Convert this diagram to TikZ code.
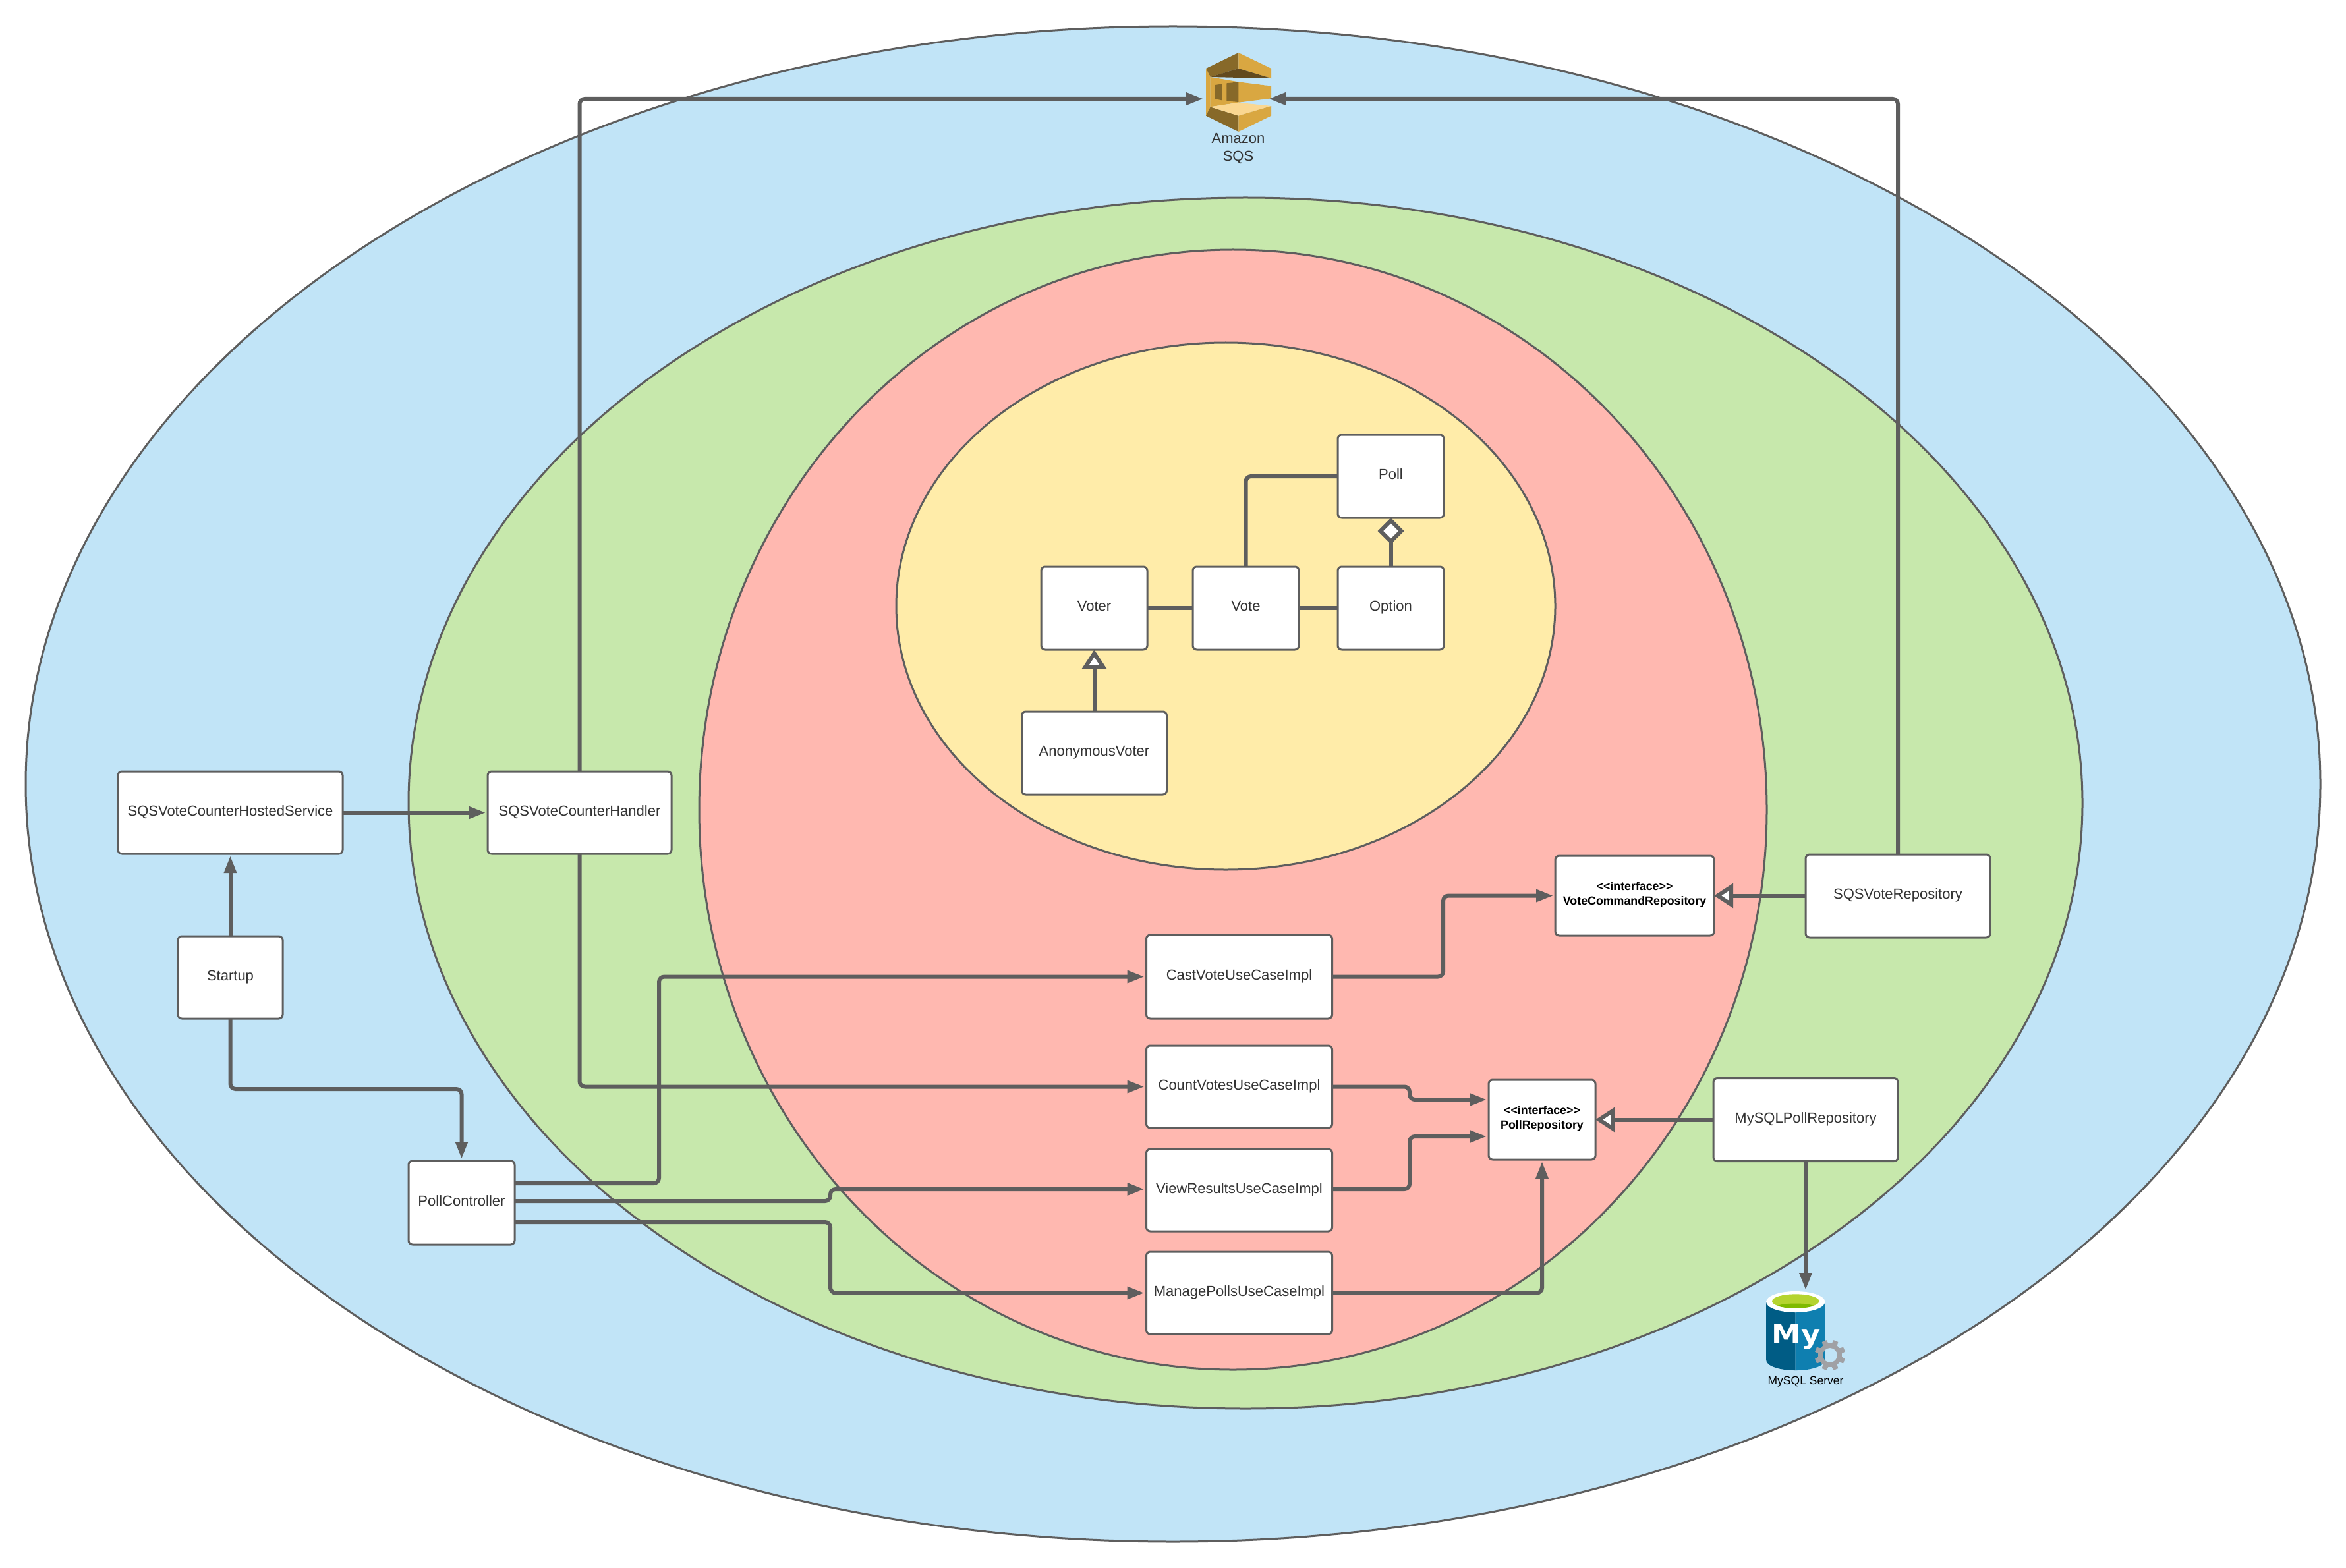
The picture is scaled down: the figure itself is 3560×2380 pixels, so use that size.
\documentclass[tikz,border=0pt]{standalone}
\usepackage{fontspec}
\setmainfont{Liberation Sans}
\newfontfamily\logofont{DejaVu Sans}
\usetikzlibrary{arrows.meta,calc}
\definecolor{cblue}{HTML}{C1E4F7}
\definecolor{cgreen}{HTML}{C7E8AC}
\definecolor{cred}{HTML}{FFB8B0}
\definecolor{cyellow}{HTML}{FFECA9}
\definecolor{cline}{HTML}{5E5E5E}
\definecolor{ctext}{HTML}{333333}
\definecolor{goldA}{HTML}{D9A741}
\definecolor{goldB}{HTML}{876929}
\definecolor{goldC}{HTML}{624A1E}
\definecolor{goldD}{HTML}{FAD791}
\definecolor{myblueA}{HTML}{005C85}
\definecolor{myblueB}{HTML}{0F7FB0}
\definecolor{mygreenA}{HTML}{B5D430}
\definecolor{mygreenB}{HTML}{7FBA00}
\definecolor{mygear}{HTML}{A0A1A5}
\tikzset{
  ringpath/.style={draw=cline,line width=1.5pt},
  box/.style={draw=cline,fill=white,line width=1.5pt,rounded corners=3pt,outer sep=0pt,inner sep=0pt,
    font=\fontsize{11}{13.5}\selectfont,text=ctext,align=center,text height=8pt,text depth=3.5pt},
  ibox/.style={draw=cline,fill=white,line width=1.5pt,rounded corners=3pt,outer sep=0pt,inner sep=0pt,
    align=center,font=\fontsize{8.9}{11}\selectfont\bfseries,text=black,text depth=3.1pt},
  conn/.style={draw=cline,line width=3pt,rounded corners=4pt},
  arr/.style={conn,-{Triangle[length=13pt,width=9pt]},shorten >=1.5pt},
  hollow/.style={conn,-{Triangle[open,fill=white,length=14.5pt,width=18pt,line width=3pt]}},
  aggr/.style={conn,-{Diamond[open,fill=white,length=20pt,width=20pt,line width=3pt]}},
  iconbox/.style={inner sep=0pt,outer sep=0pt},
}
\begin{document}
\begin{tikzpicture}[x=0.5pt,y=-0.5pt]
\useasboundingbox (0,0) rectangle (3560,2380);
% layers
\path[ringpath,fill=cblue] (1780,1190) ellipse [x radius=1741,y radius=1150];
\path[ringpath,fill=cgreen] (1890,1219) ellipse [x radius=1270,y radius=919];
\path[ringpath,fill=cred] (1871,1229) ellipse [x radius=810,y radius=850];
\path[ringpath,fill=cyellow] (1860,920) ellipse [x radius=500,y radius=400];

% Amazon SQS icon
\begin{scope}[shift={(1780,60)},x=0.1667pt,y=-0.1667pt]
\fill[goldB] (298,60)--(150,132)--(170,171)--(298,132)--cycle;
\fill[goldA] (150,132)--(170,171)--(170,307)--(150,347)--cycle;
\fill[goldB] (150,347)--(170,307)--(298,347)--(298,420)--cycle;
\fill[goldA] (298,60)--(447,132)--(447,177)--(298,132)--cycle;
\fill[goldC] (298,132)--(447,177)--(170,171)--cycle;
\fill[goldA] (170,171)--(298,193)--(447,212)--(447,268)--(298,287)--(170,307)--cycle;
\fill[goldB] (189,207)--(223,203)--(223,277)--(189,270)--cycle;
\fill[goldB] (244,199)--(298,193)--(298,285)--(244,280)--cycle;
\fill[goldD] (170,307)--(298,287)--(447,303)--(298,347)--cycle;
\fill[goldA] (298,347)--(447,303)--(447,347)--(298,420)--cycle;
\end{scope}
\node[iconbox,minimum width=46.5pt,minimum height=60pt] (sqsicon) at (1875.5,150) {};
\node[iconbox,font=\fontsize{11}{13.5}\selectfont,text=ctext,align=center] (sqslabel) at (1879,226) {Amazon\\SQS};

% MySQL icon
\begin{scope}[shift={(2640,1940)},x=0.1667pt,y=-0.1667pt]
\fill[myblueA] (120,108) -- (254,108) -- (254,420) .. controls (180,420) and (120,400) .. (120,372) -- cycle;
\fill[myblueB] (388,108) -- (254,108) -- (254,420) .. controls (328,420) and (388,400) .. (388,372) -- cycle;
\fill[white] (254,108) ellipse [x radius=134,y radius=48];
\fill[mygreenA] (254,105) ellipse [x radius=107,y radius=32];
\fill[mygreenB] (172,126) .. controls (200,112) and (308,112) .. (336,126) .. controls (300,141) and (208,141) .. (172,126) -- cycle;
\end{scope}
\node[iconbox,text=white,font=\logofont\fontsize{20}{20}\selectfont\bfseries] (mylogo) at (2725.5,2029) {\scalebox{1.12}[1]{My}};
\begin{scope}[shift={(2777,2057)}]
\fill[mygear,even odd rule]
  (8.5:18) \foreach \a in {22.5,67.5,...,337.5} { -- (\a-14:18) -- (\a-9:23.5) -- (\a+9:23.5) -- (\a+14:18) } -- cycle
  (0,0) circle [radius=11];
\end{scope}
\node[iconbox,minimum width=60pt,minimum height=50pt] (mysql) at (2740,2011) {};
\node[iconbox,font=\fontsize{8.75}{11}\selectfont,text=black] (mysqllabel) at (2740,2097) {MySQL Server};

% nodes
\node[box,minimum width=170.5pt,minimum height=62.5pt] (hosted) at (349.5,1233.5) {SQSVoteCounterHostedService};
\node[box,minimum width=139.5pt,minimum height=62.5pt] (handler) at (879.5,1233.5) {SQSVoteCounterHandler};
\node[box,minimum width=79.5pt,minimum height=62.5pt] (startup) at (349.5,1483.5) {Startup};
\node[box,minimum width=80.5pt,minimum height=63.5pt] (pc) at (700.5,1825.5) {PollController};
\node[box,minimum width=141pt,minimum height=63.5pt] (cast) at (1880.5,1482.5) {CastVoteUseCaseImpl};
\node[box,minimum width=141pt,minimum height=62.5pt] (count) at (1880.5,1649.5) {CountVotesUseCaseImpl};
\node[box,minimum width=141pt,minimum height=62.5pt] (view) at (1880.5,1806.5) {ViewResultsUseCaseImpl};
\node[box,minimum width=141pt,minimum height=62.5pt] (manage) at (1880.5,1962.5) {ManagePollsUseCaseImpl};
\node[ibox,minimum width=120.5pt,minimum height=60.5pt] (votecmd) at (2480.5,1359.5) {<{}<interface>{}>\\VoteCommandRepository};
\node[ibox,minimum width=81pt,minimum height=60.5pt] (pollrepo) at (2340,1699.5) {<{}<interface>{}>\\PollRepository};
\node[box,minimum width=140pt,minimum height=63pt] (sqsrepo) at (2880,1360) {SQSVoteRepository};
\node[box,minimum width=140pt,minimum height=63pt] (mysqlrepo) at (2740,1699.5) {MySQLPollRepository};
\node[box,minimum width=80.5pt,minimum height=63pt] (poll) at (2110.5,723) {Poll};
\node[box,minimum width=80.5pt,minimum height=63pt] (voter) at (1660.5,923) {Voter};
\node[box,minimum width=80.5pt,minimum height=63pt] (vote) at (1890.5,923) {Vote};
\node[box,minimum width=80.5pt,minimum height=63pt] (option) at (2110.5,923) {Option};
\node[box,minimum width=110pt,minimum height=63pt] (anon) at (1660.5,1143) {AnonymousVoter};

% connectors
\draw[arr] (handler.north) |- (sqsicon.west);
\draw[arr] (sqsrepo.north) |- (sqsicon.east);
\draw[arr] (hosted.east) -- (handler.west);
\draw[arr] (startup.north) -- (hosted.south);
\draw[arr] (startup.south) -- (startup.south |- 0,1653) -| (pc.north);
\draw[arr] (pc.east |- 0,1796) -- (1000,1796) |- (cast.west);
\draw[arr] (pc.east |- 0,1823) -- (1260,1823) -- (1260,1805) -- (view.west |- 0,1805);
\draw[arr] (pc.east |- 0,1855) -- (1260,1855) |- (manage.west);
\draw[arr] (handler.south) |- (count.west);
\draw[arr] (cast.east) -- (2190,1482.5) |- (votecmd.west);
\draw[arr] (count.east) -- (2139,1649.5) |- (pollrepo.west |- 0,1669);
\draw[arr] (view.east |- 0,1805) -- (2139,1805) |- (pollrepo.west |- 0,1725);
\draw[arr] (manage.east) -| (pollrepo.south);
\draw[hollow] (sqsrepo.west |- votecmd.east) -- (votecmd.east);
\draw[hollow] (mysqlrepo.west) -- (pollrepo.east);
\draw[arr] (mysqlrepo.south) -- (mysql.north);
\draw[conn] (vote.north) |- (poll.west);
\draw[conn] (voter.east) -- (vote.west);
\draw[conn] (vote.east) -- (option.west);
\draw[aggr] (option.north) -- (poll.south);
\draw[hollow] (anon.north) -- (voter.south);
\end{tikzpicture}
\end{document}
